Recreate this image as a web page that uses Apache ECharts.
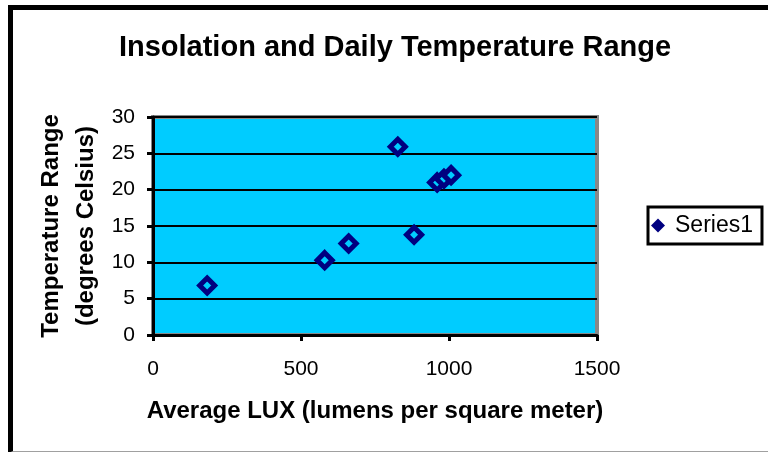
<!DOCTYPE html>
<html>
<head>
<meta charset="utf-8">
<script src="https://cdn.jsdelivr.net/npm/echarts@6/dist/echarts.min.js"></script>
<style>
  html, body { margin: 0; padding: 0; background: #ffffff; }
  #chart { position: absolute; left: 0; top: 0; width: 768px; height: 452px; }
  /* outer chart-area frame, right edge runs off the picture */
  #frame {
    position: absolute; left: 8px; top: 5px; width: 800px; height: 441px;
    border-top: 5px solid #000; border-left: 5px solid #000; border-bottom: 2px solid #a0a0a0;
    pointer-events: none;
  }
</style>
</head>
<body>
<div id="chart"></div>
<div id="frame"></div>
<script>
// average lux vs daily temperature range
const luxValues = [183, 580, 661, 827, 882, 960, 983, 1007];
const tempRange = [6.8, 10.3, 12.6, 25.9, 13.8, 21.0, 21.5, 22.0];
const xTicks = [0, 500, 1000, 1500];
const yTicks = [0, 5, 10, 15, 20, 25, 30];

const points = luxValues.map((v, i) => [v, tempRange[i]]);
const font = 'Liberation Sans, Arial, sans-serif';

const chart = echarts.init(document.getElementById('chart'));
chart.setOption({
  animation: false,
  title: {
    text: 'Insolation and Daily Temperature Range',
    left: 390, top: 28, textAlign: 'center',
    textStyle: { fontFamily: font, fontSize: 29, fontWeight: 'bold', color: '#000' }
  },
  legend: {
    left: 648, top: 207,
    padding: [7, 9, 7, 3],
    borderColor: '#000', borderWidth: 3,
    itemWidth: 14, itemHeight: 14, itemGap: 6,
    icon: 'diamond',
    itemStyle: { color: '#000080', borderWidth: 0 },
    textStyle: { fontFamily: font, fontSize: 23, color: '#000', padding: [0, 0, 0, 5] },
    data: ['Series1']
  },
  grid: {
    left: 153, right: 171, top: 117, bottom: 117,
    show: true, backgroundColor: '#00ccff', borderColor: '#888888', borderWidth: 4
  },
  xAxis: {
    type: 'value', min: xTicks[0], max: xTicks[xTicks.length - 1], interval: 500,
    name: 'Average LUX (lumens per square meter)', nameLocation: 'middle', nameGap: 64,
    nameMoveOverlap: false,
    nameTextStyle: { fontFamily: font, fontSize: 24, fontWeight: 'bold', color: '#000' },
    axisLine: { lineStyle: { color: '#000', width: 3 } },
    axisTick: { show: true, length: 6, lineStyle: { color: '#000', width: 3 } },
    axisLabel: { fontFamily: font, fontSize: 21, color: '#000', margin: 24, formatter: v => String(v) },
    splitLine: { show: false }
  },
  yAxis: {
    type: 'value', min: yTicks[0], max: yTicks[yTicks.length - 1], interval: 5,
    name: 'Temperature Range\n(degrees Celsius)', nameLocation: 'middle', nameGap: 49,
    nameMoveOverlap: false,
    nameTextStyle: { fontFamily: font, fontSize: 24, fontWeight: 'bold', color: '#000', lineHeight: 35 },
    axisLine: { lineStyle: { color: '#000', width: 3 } },
    axisTick: { show: true, length: 6, lineStyle: { color: '#000', width: 3 } },
    axisLabel: { fontFamily: font, fontSize: 21, color: '#000', margin: 18 },
    splitLine: { show: true, lineStyle: { color: '#000', width: 2 } }
  },
  series: [{
    name: 'Series1',
    type: 'scatter',
    symbol: 'diamond',
    symbolSize: 15,
    itemStyle: { color: '#00ccff', borderColor: '#000080', borderWidth: 5, opacity: 1 },
    data: points
  }]
});
</script>
</body>
</html>
